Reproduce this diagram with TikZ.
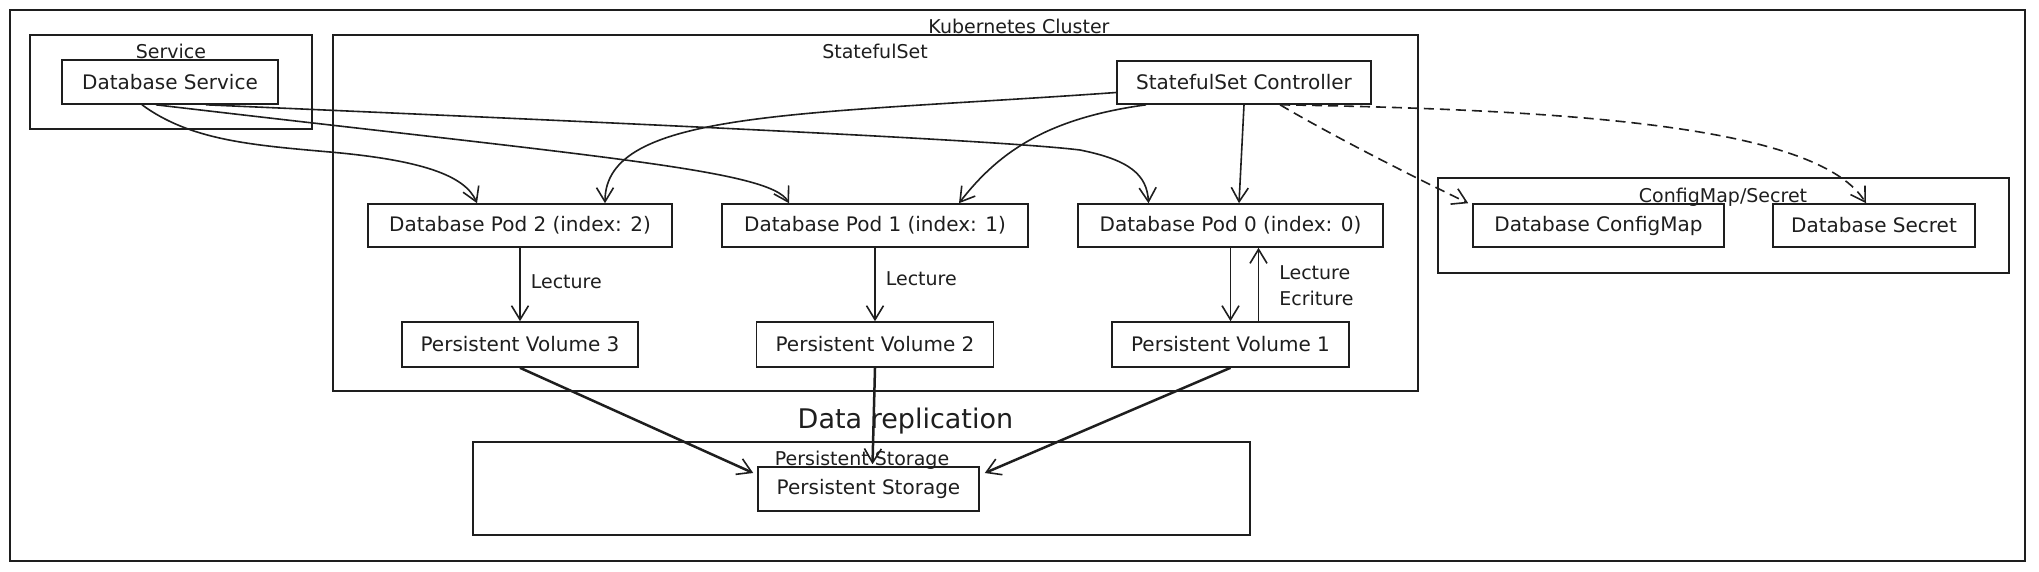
\documentclass[tikz,border=0pt]{standalone}
\usepackage{fontspec}
\setmainfont{DejaVu Sans}
\usetikzlibrary{arrows.meta,calc}
\definecolor{ink}{HTML}{1E1E1E}
\begin{document}
\begin{tikzpicture}[x=1pt,y=-1pt,
  every node/.style={text=ink},
  cluster/.style={draw=ink, line width=1.7pt, inner sep=0pt},
  box/.style={draw=ink, line width=1.6pt, inner sep=0pt, minimum height=44pt, font=\fontsize{20}{23}\selectfont},
  clabel/.style={anchor=base, inner sep=0pt, font=\fontsize{19}{22}\selectfont},
  elabel/.style={anchor=base west, inner sep=0pt, font=\fontsize{19}{22}\selectfont},
  arr/.style={draw=ink, line width=1.6pt, -{Straight Barb[length=14pt,width=17pt,line width=1.6pt]}},
  darr/.style={arr, dash pattern=on 10pt off 6pt},
  reparr/.style={arr, line width=2.5pt},
]
\useasboundingbox[fill=white] (0,0) rectangle (2039,571);

% clusters
\node[cluster, minimum width=2015pt, minimum height=551pt] (k8s) at (1017.5,285.5) {};
\node[cluster, minimum width=282pt, minimum height=94pt] (svcc) at (171,82) {};
\node[cluster, minimum width=1085pt, minimum height=356pt] (stsc) at (875.5,213) {};
\node[cluster, minimum width=571pt, minimum height=95pt] (cfgc) at (1723.5,225.5) {};
\node[cluster, minimum width=777pt, minimum height=93pt] (psc) at (861.5,488.5) {};

% nodes
\node[box, minimum width=216pt] (svc) at (170,82) {Database Service};
\node[box, minimum width=254pt, minimum height=43pt] (ctrl) at (1244,82.5) {StatefulSet Controller};
\node[box, minimum width=304pt, minimum height=43pt] (pod2) at (520,225.5) {Database Pod 2 (index: 2)};
\node[box, minimum width=306pt, minimum height=43pt] (pod1) at (875,225.5) {Database Pod 1 (index: 1)};
\node[box, minimum width=305pt, minimum height=43pt] (pod0) at (1230.5,225.5) {Database Pod 0 (index: 0)};
\node[box, minimum width=236pt, minimum height=45pt] (pv3) at (520,344.5) {Persistent Volume 3};
\node[box, minimum width=237pt, minimum height=45pt] (pv2) at (875,344.5) {Persistent Volume 2};
\node[box, minimum width=237pt, minimum height=45pt] (pv1) at (1230.5,344.5) {Persistent Volume 1};
\node[box, minimum width=251pt, minimum height=43pt] (cm) at (1598.5,225.5) {Database ConfigMap};
\node[box, minimum width=202pt, minimum height=43pt] (sec) at (1874,225.5) {Database Secret};
\node[box, minimum width=221pt] (ps) at (868.5,489) {Persistent Storage};

% cluster labels
\node[clabel] (k8sl) at (1019,33) {Kubernetes Cluster};
\node[clabel] (svcl) at (171,58) {Service};
\node[clabel] (stsl) at (875,58) {StatefulSet};
\node[clabel] (cfgl) at (1723,202) {ConfigMap/Secret};
\node[clabel] (psl) at (862,465) {Persistent Storage};

% service edges
\draw[arr] ($(svc.south)+(-28,0)$) .. controls (190,140) and (250,145) .. (330,152)
  .. controls (420,160) and (465,175) .. ($(pod2.north)+(-43,0)$);
\draw[arr] ($(svc.south)+(-14,0)$) .. controls (600,157) and (770,170) .. ($(pod1.north)+(-86,0)$);
\draw[arr] ($(svc.south)+(36,0)$) .. controls (600,122) and (1000,140) .. (1080,150)
  .. controls (1130,160) and (1147,175) .. ($(pod0.north)+(-82,0)$);

% controller edges
\draw[arr] ($(ctrl.west)+(0,10)$) .. controls (800,115) and (605,110) .. ($(pod2.north)+(85,0)$);
\draw[arr] ($(ctrl.south)+(-98,0)$) .. controls (1050,118) and (1000,150) .. ($(pod1.north)+(84,0)$);
\draw[arr] (ctrl.south) -- ($(pod0.north)+(8.5,0)$);
\draw[darr] ($(ctrl.south)+(36,0)$) .. controls (1340,140) and (1420,180) .. ($(cm.north west)+(-4,0)$);
\draw[darr] ($(ctrl.south)+(36,0)$) .. controls (1600,110) and (1820,130) .. ($(sec.north)+(-8,0)$);

% pod - volume edges
\draw[arr] (pod2.south) -- (pv3.north) node[elabel, pos=0.56, xshift=10pt] (l3) {Lecture};
\draw[arr] (pod1.south) -- (pv2.north) node[elabel, pos=0.51, xshift=10pt] (l2) {Lecture};
\draw[arr] (pod0.south) -- (pv1.north) node[elabel, pos=0.43, xshift=48pt] (l1) {Lecture};
\draw[arr] ($(pv1.north)+(28,0)$) -- ($(pod0.south)+(28,0)$) node[elabel, pos=0.21, xshift=20pt] (e1) {Ecriture};

% data replication
\draw[reparr] (pv3.south) -- ($(ps.west)+(-4,-16)$);
\draw[reparr] (pv2.south) -- ($(ps.north)+(4,-2)$)
  node[pos=0.63, anchor=base, xshift=32pt, inner sep=0pt, font=\fontsize{27}{30}\selectfont] (drl) {Data replication};
\draw[reparr] (pv1.south) -- ($(ps.east)+(5,-16)$);
\end{tikzpicture}
\end{document}
